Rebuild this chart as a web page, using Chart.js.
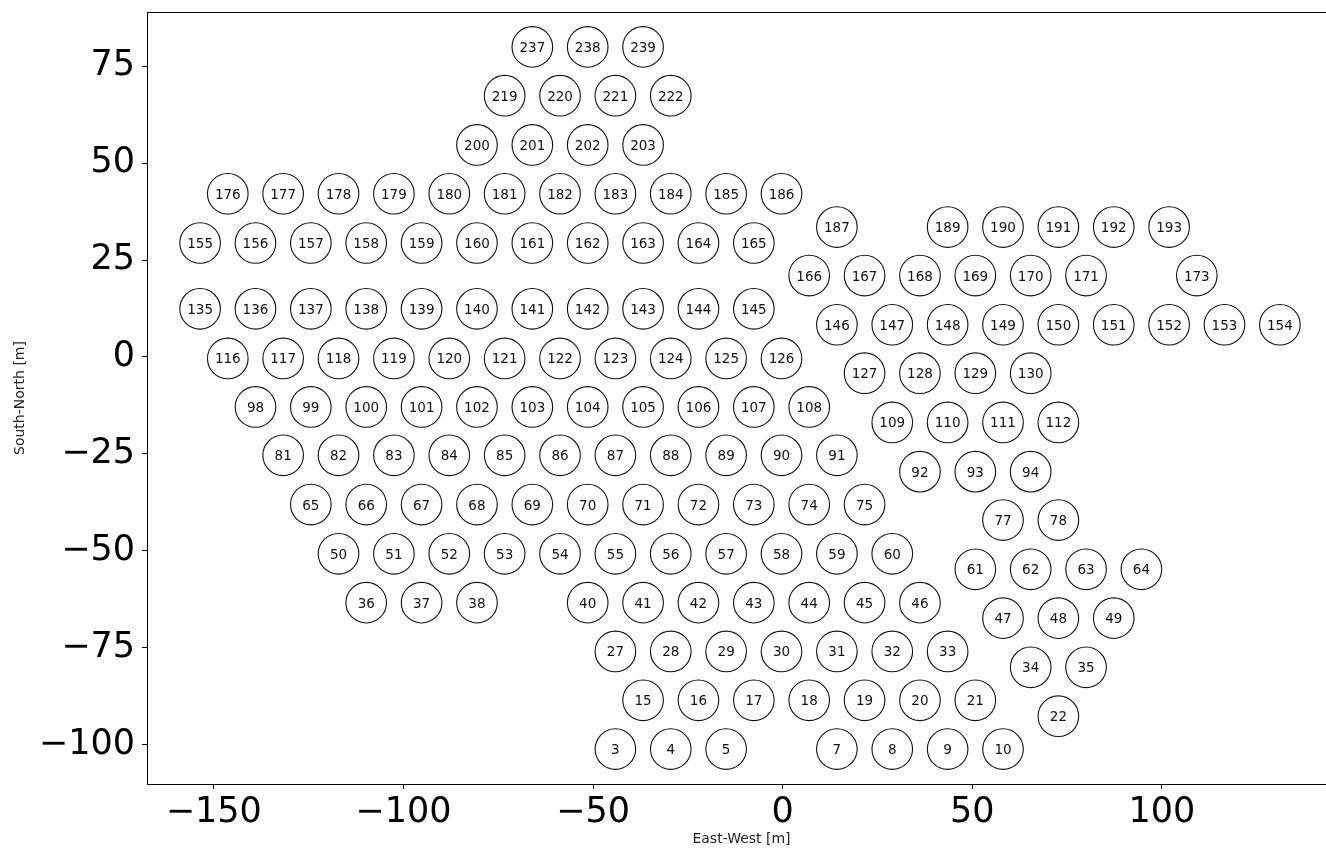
<!DOCTYPE html>
<html>
<head>
<meta charset="utf-8">
<script src="https://cdn.jsdelivr.net/npm/chart.js@4.4.1/dist/chart.umd.min.js"></script>
<style>
  html, body { margin: 0; padding: 0; background: #fff; overflow: hidden; }
  #wrap { width: 1340px; height: 852px; }
</style>
</head>
<body>
<div id="wrap"><canvas id="layout"></canvas></div>
<script>
// antenna numbers, listed row by row from north to south
const antennaIds = [
  237, 238, 239,
  219, 220, 221, 222,
  200, 201, 202, 203,
  176, 177, 178, 179, 180, 181, 182, 183, 184, 185, 186,
  187, 189, 190, 191, 192, 193,
  155, 156, 157, 158, 159, 160, 161, 162, 163, 164, 165,
  166, 167, 168, 169, 170, 171, 173,
  135, 136, 137, 138, 139, 140, 141, 142, 143, 144, 145,
  146, 147, 148, 149, 150, 151, 152, 153, 154,
  116, 117, 118, 119, 120, 121, 122, 123, 124, 125, 126,
  127, 128, 129, 130,
  98, 99, 100, 101, 102, 103, 104, 105, 106, 107, 108,
  109, 110, 111, 112,
  81, 82, 83, 84, 85, 86, 87, 88, 89, 90, 91,
  92, 93, 94,
  65, 66, 67, 68, 69, 70, 71, 72, 73, 74, 75,
  77, 78,
  50, 51, 52, 53, 54, 55, 56, 57, 58, 59, 60,
  61, 62, 63, 64,
  36, 37, 38, 40, 41, 42, 43, 44, 45, 46,
  47, 48, 49,
  27, 28, 29, 30, 31, 32, 33,
  34, 35,
  15, 16, 17, 18, 19, 20, 21,
  22,
  3, 4, 5, 7, 8, 9, 10
];

// east-west position [m]
const eastM = [
  -66.0, -51.4, -36.8,
  -73.3, -58.7, -44.1, -29.5,
  -80.6, -66.0, -51.4, -36.8,
  -146.3, -131.7, -117.1, -102.5, -87.9, -73.3, -58.7, -44.1, -29.5, -14.9, -0.3,
  14.3, 43.5, 58.1, 72.7, 87.3, 101.9,
  -153.6, -139.0, -124.4, -109.8, -95.2, -80.6, -66.0, -51.4, -36.8, -22.2, -7.6,
  7.0, 21.6, 36.2, 50.8, 65.4, 80.0, 109.2,
  -153.6, -139.0, -124.4, -109.8, -95.2, -80.6, -66.0, -51.4, -36.8, -22.2, -7.6,
  14.3, 28.9, 43.5, 58.1, 72.7, 87.3, 101.9, 116.5, 131.1,
  -146.3, -131.7, -117.1, -102.5, -87.9, -73.3, -58.7, -44.1, -29.5, -14.9, -0.3,
  21.6, 36.2, 50.8, 65.4,
  -139.0, -124.4, -109.8, -95.2, -80.6, -66.0, -51.4, -36.8, -22.2, -7.6, 7.0,
  28.9, 43.5, 58.1, 72.7,
  -131.7, -117.1, -102.5, -87.9, -73.3, -58.7, -44.1, -29.5, -14.9, -0.3, 14.3,
  36.2, 50.8, 65.4,
  -124.4, -109.8, -95.2, -80.6, -66.0, -51.4, -36.8, -22.2, -7.6, 7.0, 21.6,
  58.1, 72.7,
  -117.1, -102.5, -87.9, -73.3, -58.7, -44.1, -29.5, -14.9, -0.3, 14.3, 28.9,
  50.8, 65.4, 80.0, 94.6,
  -109.8, -95.2, -80.6, -51.4, -36.8, -22.2, -7.6, 7.0, 21.6, 36.2,
  58.1, 72.7, 87.3,
  -44.1, -29.5, -14.9, -0.3, 14.3, 28.9, 43.5,
  65.4, 80.0,
  -36.8, -22.2, -7.6, 7.0, 21.6, 36.2, 50.8,
  72.7,
  -44.1, -29.5, -14.9, 14.3, 28.9, 43.5, 58.1
];

// south-north position [m]
const northM = [
  80.0, 80.0, 80.0,
  67.4, 67.4, 67.4, 67.4,
  54.7, 54.7, 54.7, 54.7,
  42.1, 42.1, 42.1, 42.1, 42.1, 42.1, 42.1, 42.1, 42.1, 42.1, 42.1,
  33.5, 33.5, 33.5, 33.5, 33.5, 33.5,
  29.4, 29.4, 29.4, 29.4, 29.4, 29.4, 29.4, 29.4, 29.4, 29.4, 29.4,
  21.0, 21.0, 21.0, 21.0, 21.0, 21.0, 21.0,
  12.4, 12.4, 12.4, 12.4, 12.4, 12.4, 12.4, 12.4, 12.4, 12.4, 12.4,
  8.3, 8.3, 8.3, 8.3, 8.3, 8.3, 8.3, 8.3, 8.3,
  -0.4, -0.4, -0.4, -0.4, -0.4, -0.4, -0.4, -0.4, -0.4, -0.4, -0.4,
  -4.2, -4.2, -4.2, -4.2,
  -12.9, -12.9, -12.9, -12.9, -12.9, -12.9, -12.9, -12.9, -12.9, -12.9, -12.9,
  -16.9, -16.9, -16.9, -16.9,
  -25.4, -25.4, -25.4, -25.4, -25.4, -25.4, -25.4, -25.4, -25.4, -25.4, -25.4,
  -29.6, -29.6, -29.6,
  -38.1, -38.1, -38.1, -38.1, -38.1, -38.1, -38.1, -38.1, -38.1, -38.1, -38.1,
  -42.1, -42.1,
  -50.8, -50.8, -50.8, -50.8, -50.8, -50.8, -50.8, -50.8, -50.8, -50.8, -50.8,
  -54.8, -54.8, -54.8, -54.8,
  -63.4, -63.4, -63.4, -63.4, -63.4, -63.4, -63.4, -63.4, -63.4, -63.4,
  -67.4, -67.4, -67.4,
  -76.0, -76.0, -76.0, -76.0, -76.0, -76.0, -76.0,
  -80.1, -80.1,
  -88.6, -88.6, -88.6, -88.6, -88.6, -88.6, -88.6,
  -92.7,
  -101.2, -101.2, -101.2, -101.2, -101.2, -101.2, -101.2
];

const xTicks = [-150, -100, -50, 0, 50, 100];
const yTicks = [-100, -75, -50, -25, 0, 25, 50, 75];

const points = antennaIds.map((id, i) => ({ x: eastM[i], y: northM[i] }));

const fmt = v => (v < 0 ? '\u2212' + Math.abs(v) : String(v));

// number inside each dish
const antennaLabels = {
  id: 'antennaLabels',
  afterDatasetsDraw(chart) {
    const ctx = chart.ctx;
    const meta = chart.getDatasetMeta(0);
    ctx.save();
    ctx.fillStyle = '#111';
    ctx.font = '13.5px "DejaVu Sans"';
    ctx.textAlign = 'center';
    ctx.textBaseline = 'middle';
    meta.data.forEach((pt, i) => {
      ctx.fillText(String(antennaIds[i]), pt.x, pt.y + 1.5);
    });
    ctx.restore();
  }
};

// box round the plot area
const frame = {
  id: 'frame',
  afterDraw(chart) {
    const { left, top, right, bottom } = chart.chartArea;
    const ctx = chart.ctx;
    ctx.save();
    ctx.strokeStyle = '#000';
    ctx.lineWidth = 1;
    ctx.strokeRect(left + 0.5, top + 0.5, right - left, bottom - top);
    ctx.restore();
  }
};

new Chart(document.getElementById('layout'), {
  type: 'scatter',
  data: {
    datasets: [{
      data: points,
      pointRadius: 20.3,
      pointHoverRadius: 20.3,
      pointBackgroundColor: 'rgba(255,255,255,0)',
      pointBorderColor: '#111',
      pointBorderWidth: 1.1
    }]
  },
  options: {
    responsive: true,
    maintainAspectRatio: false,
    animation: false,
    events: [],
    layout: { autoPadding: false, padding: { top: 12, right: 4, left: 0, bottom: 0 } },
    plugins: { legend: { display: false }, tooltip: { enabled: false } },
    scales: {
      x: {
        type: 'linear',
        min: -167.6,
        max: 145.9,
        afterFit: s => {
          s.height = 68;
          s.paddingLeft = 0;
          s.paddingRight = 0;
        },
        afterBuildTicks: s => { s.ticks = xTicks.map(v => ({ value: v })); },
        grid: { drawOnChartArea: false, drawTicks: true, tickLength: 5, tickColor: '#000' },
        border: { display: true, color: '#000' },
        ticks: {
          color: '#000',
          font: { family: 'DejaVu Sans', size: 35 },
          padding: 3,
          maxRotation: 0,
          callback: fmt
        },
        title: {
          display: true,
          text: 'East-West [m]',
          color: '#222',
          font: { family: 'DejaVu Sans', size: 14 },
          padding: 4
        }
      },
      y: {
        type: 'linear',
        min: -110.2,
        max: 89.0,
        afterFit: s => {
          s.width = 147;
          s.paddingTop = 0;
          s.paddingBottom = 0;
        },
        afterBuildTicks: s => { s.ticks = yTicks.map(v => ({ value: v })); },
        grid: { drawOnChartArea: false, drawTicks: true, tickLength: 5, tickColor: '#000' },
        border: { display: true, color: '#000' },
        ticks: {
          color: '#000',
          font: { family: 'DejaVu Sans', size: 35 },
          padding: 7,
          callback: fmt
        },
        title: {
          display: true,
          text: 'South-North [m]',
          color: '#222',
          font: { family: 'DejaVu Sans', size: 14 },
          padding: 12
        }
      }
    }
  },
  plugins: [antennaLabels, frame]
});
</script>
</body>
</html>
